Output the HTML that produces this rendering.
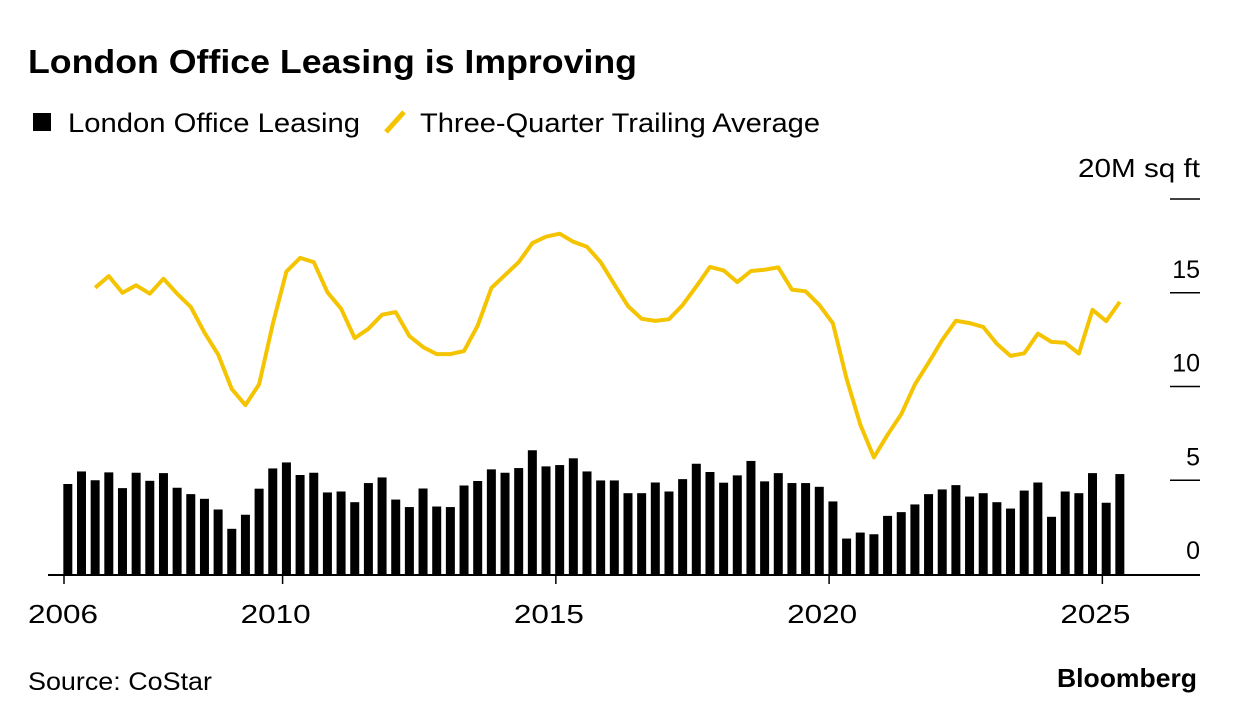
<!DOCTYPE html>
<html><head><meta charset="utf-8"><style>
body{margin:0;background:#fff;width:1236px;height:722px;overflow:hidden;font-family:"Liberation Sans",sans-serif}
svg text{font-family:"Liberation Sans",sans-serif}
</style></head><body>
<svg id="chart" width="1236" height="722">
<text x="28" y="73" font-size="33" font-weight="bold" fill="#000" textLength="609" lengthAdjust="spacingAndGlyphs">London Office Leasing is Improving</text>
<g>
<rect x="33" y="113" width="18" height="18" fill="#000"/>
<text x="68" y="132" font-size="27" textLength="292" lengthAdjust="spacingAndGlyphs">London Office Leasing</text>
<line x1="386" y1="132" x2="404" y2="112" stroke="#f5c400" stroke-width="5"/>
<text x="420" y="132" font-size="27" textLength="400" lengthAdjust="spacingAndGlyphs">Three-Quarter Trailing Average</text>
</g>
<text x="1200" y="177" font-size="26" text-anchor="end" textLength="122" lengthAdjust="spacingAndGlyphs">20M sq ft</text>
<g id="yaxis"></g>
<g id="bars"></g>
<g id="xaxis"></g>
<path id="avgline" fill="none" stroke="#f5c400" stroke-width="4" stroke-linejoin="round"/>
<text x="28" y="690" font-size="25" textLength="184" lengthAdjust="spacingAndGlyphs">Source: CoStar</text>
<text x="1197" y="687" font-size="26" font-weight="bold" text-anchor="end" textLength="140" lengthAdjust="spacingAndGlyphs">Bloomberg</text>
</svg>
<script>
const leasing=[4.8,5.47,5.0,5.42,4.58,5.4,4.97,5.38,4.6,4.26,4.01,3.44,2.41,3.16,4.55,5.63,5.95,5.28,5.4,4.35,4.4,3.83,4.85,5.15,3.97,3.57,4.56,3.6,3.57,4.72,4.96,5.58,5.4,5.65,6.6,5.74,5.81,6.17,5.47,4.99,4.99,4.31,4.31,4.88,4.4,5.06,5.88,5.44,4.87,5.26,6.03,4.94,5.38,4.85,4.85,4.65,3.87,1.89,2.21,2.12,3.1,3.3,3.71,4.26,4.51,4.74,4.13,4.31,3.83,3.49,4.45,4.88,3.05,4.4,4.31,5.38,3.8,5.33];
const trailing=[null,null,15.27,15.89,15.0,15.4,14.95,15.75,14.95,14.24,12.87,11.71,9.86,9.01,10.12,13.34,16.13,16.86,16.63,15.03,14.15,12.58,13.08,13.83,13.97,12.69,12.1,11.73,11.73,11.89,13.25,15.26,15.94,16.63,17.65,17.99,18.15,17.72,17.45,16.63,15.45,14.29,13.61,13.5,13.59,14.34,15.34,16.38,16.19,15.57,16.16,16.23,16.35,15.17,15.08,14.35,13.37,10.41,7.97,6.22,7.43,8.52,10.11,11.27,12.48,13.51,13.38,13.18,12.27,11.63,11.77,12.82,12.38,12.33,11.76,14.09,13.49,14.51];
const startYear=2006;
const yTicks=[0,5,10,15,20];
const yTickLabels=["0","5","10","15",""];
const xTicks=[2006,2010,2015,2020,2025];
const NS="http://www.w3.org/2000/svg";
const y=v=>574-v*18.75;
const xYear=t=>64+(t-2006)*54.65;
const xIdx=i=>xYear(startYear+i/4+0.07);
function mk(tag,attrs,parent){const e=document.createElementNS(NS,tag);for(const k in attrs)e.setAttribute(k,attrs[k]);parent.appendChild(e);return e;}
const ya=document.getElementById('yaxis');
yTicks.forEach((v,i)=>{
 if(v>0){const l=mk('line',{x1:1170,x2:1200,y1:y(v),y2:y(v),stroke:'#000','stroke-width':1.5},ya);
 
 }
 if(yTickLabels[i]){const t=mk('text',{x:1200,y:y(v)-15,'font-size':25,'text-anchor':'end'},ya);t.textContent=yTickLabels[i];
 
 }
});
const bg=document.getElementById('bars');
leasing.forEach((v,i)=>{
 const r=mk('rect',{x:xIdx(i)-4.5,y:y(v),width:9,height:y(0)-y(v),fill:'#000'},bg);
 
 
});
const xa=document.getElementById('xaxis');
const base=mk('line',{x1:48,x2:1200,y1:575,y2:575,stroke:'#000','stroke-width':2},xa);


xTicks.forEach(yr=>{
 const l=mk('line',{x1:xYear(yr),x2:xYear(yr),y1:575,y2:584,stroke:'#000','stroke-width':1.5},xa);
 
 
 const t=mk('text',{x:xYear(yr)+(yr===2006?-36:-42),y:623,'font-size':26,textLength:70,lengthAdjust:'spacingAndGlyphs'},xa);t.textContent=yr;
 
 
});
let d='';
trailing.forEach((v,i)=>{if(v==null)return;d+=(d?'L':'M')+xIdx(i).toFixed(1)+','+y(v).toFixed(1);});
document.getElementById('avgline').setAttribute('d',d);
</script>
</body></html>
